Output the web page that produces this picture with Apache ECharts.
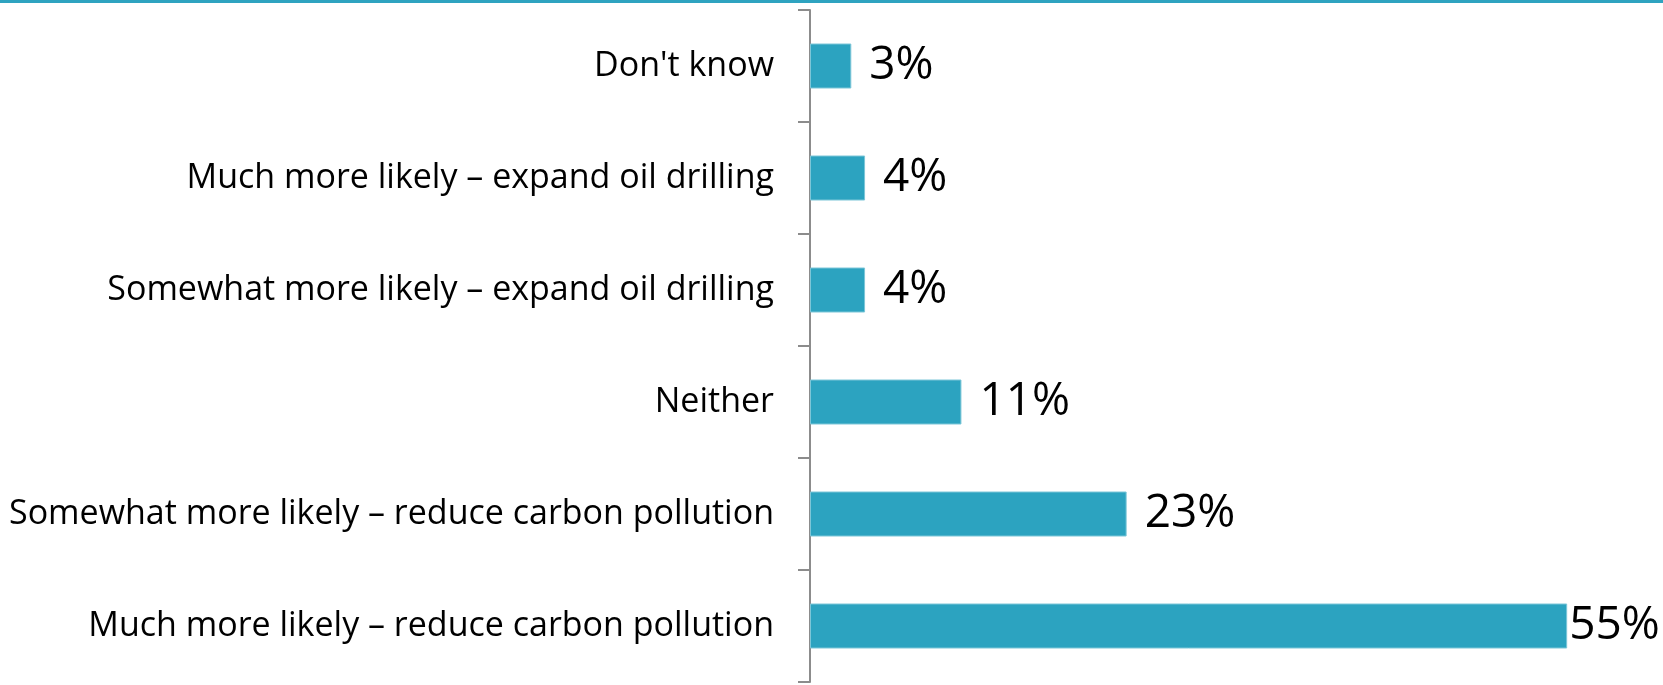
<!DOCTYPE html>
<html>
<head>
<meta charset="utf-8">
<script src="https://cdn.jsdelivr.net/npm/echarts@6/dist/echarts.min.js"></script>
<style>
  html, body { margin: 0; padding: 0; background: #fff; }
  #main { width: 1663px; height: 685px; }
</style>
</head>
<body>
<div id="main"></div>
<script>
// answers, top to bottom
var categories = [
  "Don't know",
  'Much more likely \u2013 expand oil drilling',
  'Somewhat more likely \u2013 expand oil drilling',
  'Neither',
  'Somewhat more likely \u2013 reduce carbon pollution',
  'Much more likely \u2013 reduce carbon pollution'
];
var values = [3, 4, 4, 11, 23, 55];

var chart = echarts.init(document.getElementById('main'));

var barData = values.map(function (v, i) {
  var item = { value: v };
  // the biggest bar's label is tucked right against it
  if (i === values.length - 1) {
    item.label = { distance: 2 };
  }
  return item;
});

var option = {
  animation: false,
  textStyle: { fontFamily: 'Open Sans' },
  graphic: [
    { type: 'rect', left: 0, top: 0, shape: { width: 1663, height: 3 }, style: { fill: '#2ea3c0' } }
  ],
  grid: { left: 810, top: 10, width: 826, bottom: 3 },
  xAxis: {
    type: 'value',
    min: 0,
    max: 60,
    show: false
  },
  yAxis: {
    type: 'category',
    inverse: true,
    data: categories,
    axisLine: { lineStyle: { color: '#8c8c8c', width: 2 } },
    axisTick: { show: true, length: 12, lineStyle: { color: '#8c8c8c', width: 2 } },
    axisLabel: { margin: 36, fontSize: 34, color: '#000', fontFamily: 'Open Sans' }
  },
  series: [{
    type: 'bar',
    data: barData,
    barWidth: 45,
    itemStyle: { color: '#2ca3c0', borderColor: '#7cc6d8', borderWidth: 1 },
    label: {
      show: true,
      position: 'right',
      distance: 18,
      formatter: '{c}%',
      fontSize: 46,
      color: '#000',
      fontFamily: 'Open Sans'
    }
  }]
};

chart.setOption(option);
</script>
</body>
</html>
